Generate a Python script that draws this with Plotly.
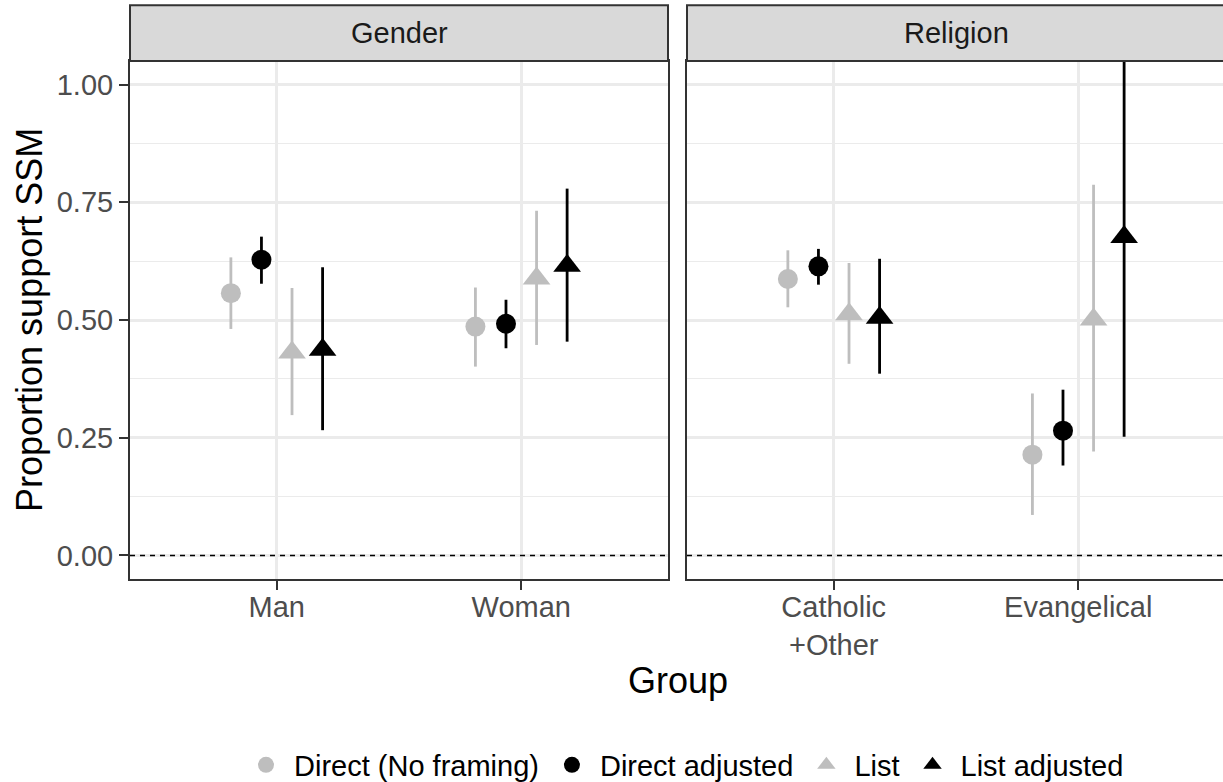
import plotly.graph_objects as go

# ---------------- data ----------------
facets = ["Gender", "Religion"]
gender_groups = ["Man", "Woman"]
religion_groups = ["Catholic<br>+Other", "Evangelical"]
methods = ["Direct (No framing)", "Direct adjusted", "List", "List adjusted"]

# values ordered: Man, Woman | Catholic+Other, Evangelical
direct_est = [0.557, 0.486, 0.587, 0.214]
direct_lo = [0.481, 0.401, 0.527, 0.086]
direct_hi = [0.633, 0.569, 0.648, 0.344]

direct_adj_est = [0.628, 0.492, 0.614, 0.265]
direct_adj_lo = [0.577, 0.440, 0.575, 0.191]
direct_adj_hi = [0.677, 0.543, 0.651, 0.352]

list_est = [0.431, 0.588, 0.512, 0.501]
list_lo = [0.298, 0.447, 0.407, 0.221]
list_hi = [0.568, 0.732, 0.621, 0.787]

list_adj_est = [0.437, 0.615, 0.505, 0.676]
list_adj_lo = [0.266, 0.454, 0.386, 0.252]
list_adj_hi = [0.612, 0.779, 0.630, 1.100]

y_ticks = [0.0, 0.25, 0.5, 0.75, 1.0]
y_ticktext = ["0.00", "0.25", "0.50", "0.75", "1.00"]

# ---------------- style ----------------
FONT = "Liberation Sans, Arial, Helvetica, sans-serif"
GREY = "#BEBEBE"
BLACK = "#000000"
series = [
    (methods[0], direct_est, direct_lo, direct_hi, GREY, "circle", 20),
    (methods[1], direct_adj_est, direct_adj_lo, direct_adj_hi, BLACK, "circle", 20),
    (methods[2], list_est, list_lo, list_hi, GREY, "triangle-up", 24),
    (methods[3], list_adj_est, list_adj_lo, list_adj_hi, BLACK, "triangle-up", 24),
]
dodge_width = 0.5
n = len(methods)
offsets = [(-(n - 1) / 2 + i) * dodge_width / n for i in range(n)]

W, H = 1223, 782
ML, MR, MT, MB = 130, 0, 61, 203.3
plot_w = W - ML - MR
plot_h = H - MT - MB
p1 = [0, (668 - ML) / plot_w]
p2 = [(687 - ML) / plot_w, 1.0]
unit_px = (668 - 130) / 2.2
x2_max = 0.4 + (W - 687) / unit_px
TICK_SIZE = 29
TITLE_SIZE = 36


def px_x(px):
    return (px - ML) / plot_w


def px_y(py):
    return (H - MB - py) / plot_h


fig = go.Figure()

panel_groups = [gender_groups, religion_groups]
for i, (name, est, lo, hi, col, sym, size) in enumerate(series):
    for p, groups in enumerate(panel_groups):
        sl = slice(2 * p, 2 * p + 2)
        e = est[sl]
        l = lo[sl]
        h = hi[sl]
        xs = [k + 1 + offsets[i] for k in range(len(groups))]
        fig.add_trace(go.Scatter(
            x=xs, y=e,
            mode="markers",
            name=name,
            legendgroup=name,
            showlegend=(p == 0),
            marker=dict(color=col, symbol=sym, size=size, line=dict(width=0)),
            error_y=dict(type="data", symmetric=False,
                         array=[a - b for a, b in zip(h, e)],
                         arrayminus=[b - a for a, b in zip(l, e)],
                         color=col, thickness=2.8, width=0),
            xaxis="x" if p == 0 else "x2",
            yaxis="y" if p == 0 else "y2",
            cliponaxis=True,
        ))

grid = "#EBEBEB"
border = "#333333"
yax_common = dict(range=[-0.05, 1.05], tickvals=y_ticks, ticktext=y_ticktext,
                  showgrid=True, gridcolor=grid, gridwidth=2.6, zeroline=False,
                  minor=dict(tickvals=[0.125, 0.375, 0.625, 0.875], showgrid=True,
                             gridcolor=grid, gridwidth=1.3, ticks=""),
                  showline=True, linecolor=border, linewidth=2)
xax_common = dict(tickvals=[1, 2], showgrid=True, gridcolor=grid, gridwidth=2.6,
                  zeroline=False, showline=True, mirror=True, linecolor=border,
                  linewidth=2, ticks="outside", ticklen=9, tickwidth=2,
                  tickcolor=border, ticklabelstandoff=-8,
                  tickfont=dict(family=FONT, size=TICK_SIZE, color="#4D4D4D"))

fig.update_layout(
    width=W, height=H,
    margin=dict(l=ML, r=MR, t=MT, b=MB),
    paper_bgcolor="white", plot_bgcolor="white",
    font=dict(family=FONT, size=TICK_SIZE, color="#000000"),
    xaxis=dict(domain=p1, range=[0.4, 2.6], ticktext=gender_groups, anchor="y",
               **xax_common),
    xaxis2=dict(domain=p2, range=[0.4, x2_max], ticktext=religion_groups,
                anchor="y2", **xax_common),
    yaxis=dict(domain=[0, 1], anchor="x", mirror=True, ticks="outside",
               ticklen=9, tickwidth=2, tickcolor=border,
               tickfont=dict(family=FONT, size=TICK_SIZE, color="#4D4D4D"),
               **yax_common),
    yaxis2=dict(domain=[0, 1], anchor="x2", matches="y", showticklabels=False,
                ticks="", mirror=False, **yax_common),
    showlegend=True,
    legend=dict(orientation="h", xref="container", yref="container",
                x=238 / W, xanchor="left", y=1 - 765 / H, yanchor="middle",
                font=dict(family=FONT, size=TICK_SIZE, color="#000000"),
                itemwidth=46, bgcolor="rgba(0,0,0,0)", traceorder="normal"),
)

# zero reference lines
for xr, yr in [("x domain", "y"), ("x2 domain", "y2")]:
    fig.add_shape(type="line", xref=xr, yref=yr, x0=0, x1=1, y0=0, y1=0,
                  line=dict(color="black", width=1.4, dash="5px,5px"), layer="above")

# facet strips
strip_top = px_y(5.3)
for dom, label, right_px in zip([p1, p2], facets, [668, 1226]):
    fig.add_shape(type="rect", xref="paper", yref="paper",
                  x0=dom[0], x1=px_x(right_px), y0=1, y1=strip_top,
                  fillcolor="#D9D9D9", line=dict(color=border, width=2), layer="above")
    fig.add_annotation(xref="paper", yref="paper", x=(dom[0] + px_x(right_px)) / 2,
                       y=(1 + strip_top) / 2, text=label, showarrow=False,
                       font=dict(family=FONT, size=TICK_SIZE, color="#1A1A1A"),
                       xanchor="center", yanchor="middle")

# axis titles
fig.add_annotation(xref="paper", yref="paper", x=px_x(677.5), y=px_y(680),
                   text="Group", showarrow=False, xanchor="center", yanchor="middle",
                   font=dict(family=FONT, size=TITLE_SIZE, color="#000000"))
fig.add_annotation(xref="paper", yref="paper", x=px_x(29), y=0.5,
                   text="Proportion support SSM", textangle=-90, showarrow=False,
                   xanchor="center", yanchor="middle",
                   font=dict(family=FONT, size=TITLE_SIZE, color="#000000"))

fig.write_html("out.html",
               config={"displayModeBar": False},
               post_script="document.body.style.margin='0';document.body.style.overflow='hidden';")
